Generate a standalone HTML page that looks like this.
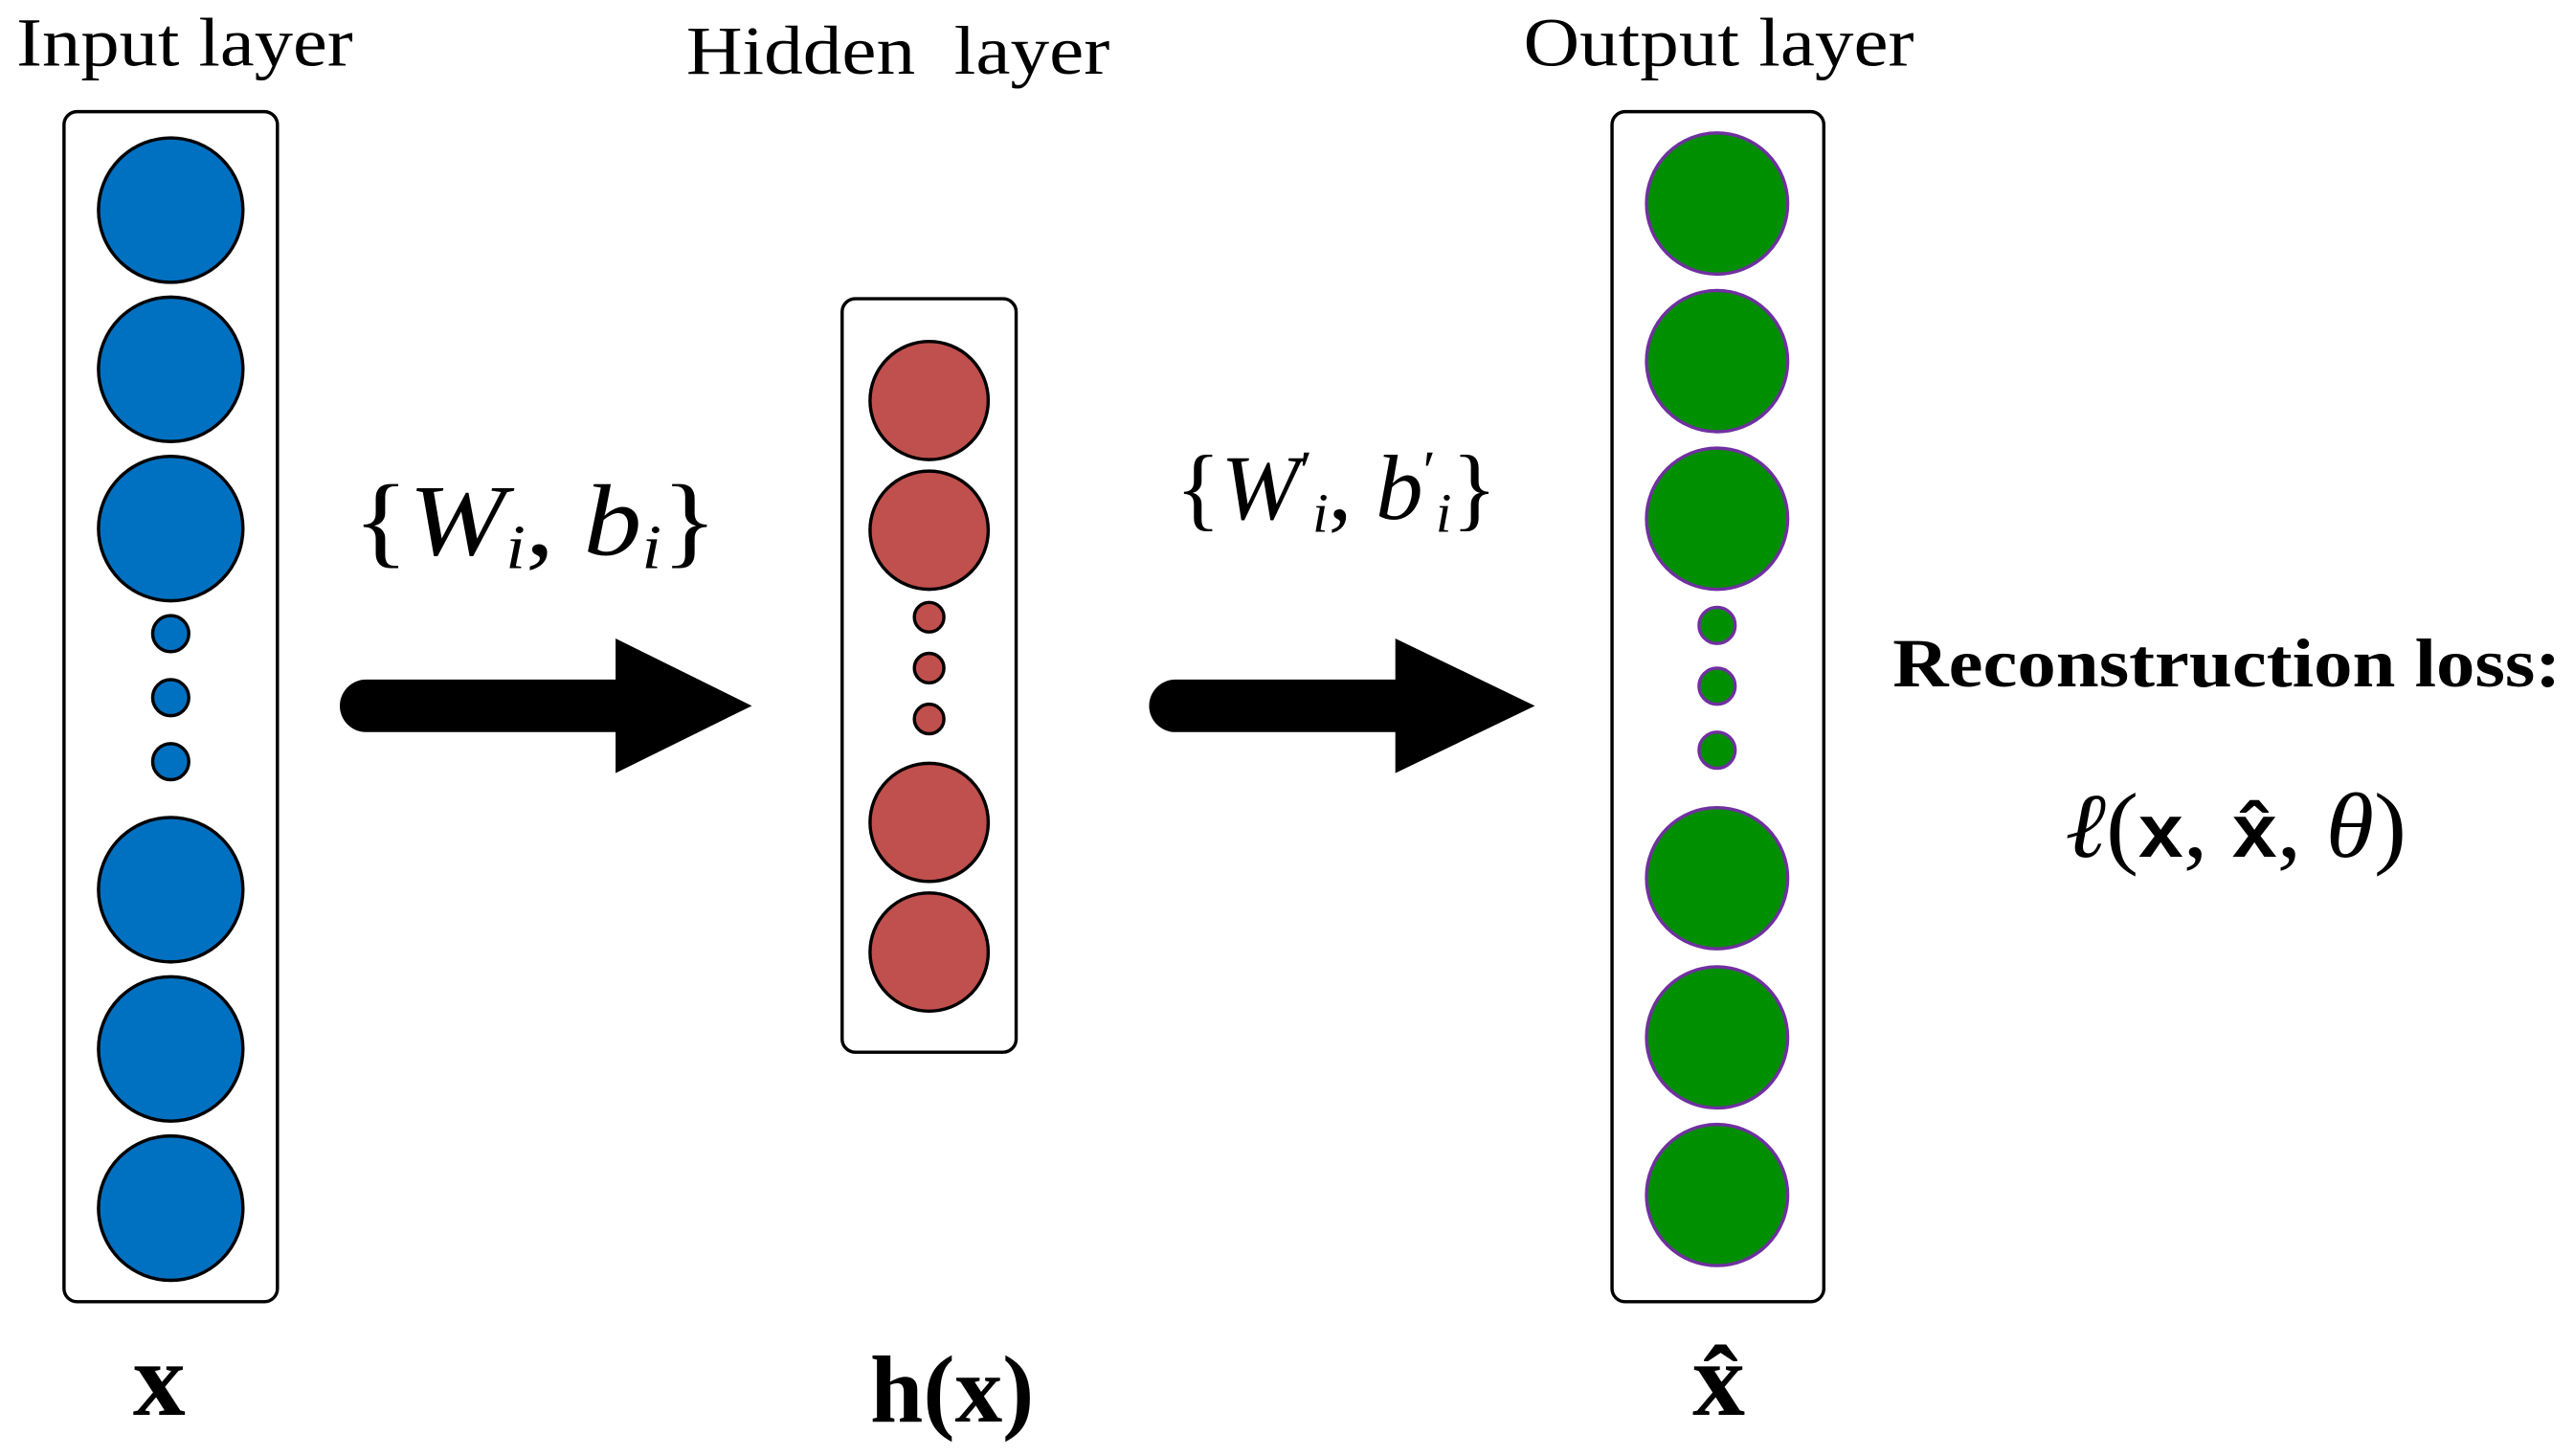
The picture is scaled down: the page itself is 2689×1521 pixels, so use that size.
<!DOCTYPE html>
<html><head><meta charset="utf-8"><style>
html,body{margin:0;padding:0;background:#fff;}
svg{display:block;}
</style></head><body>
<svg width="2689" height="1521" viewBox="0 0 1568 887" preserveAspectRatio="none" xmlns="http://www.w3.org/2000/svg" font-family="Liberation Serif, serif">
<rect width="1568" height="887" fill="#fff"/>
<rect x="39" y="68" width="130" height="725" rx="8" fill="none" stroke="#000" stroke-width="2"/>
<rect x="513" y="182" width="106" height="459" rx="8" fill="none" stroke="#000" stroke-width="2"/>
<rect x="982" y="68" width="129" height="725" rx="8" fill="none" stroke="#000" stroke-width="2"/>
<g fill="#0070c0" stroke="#000" stroke-width="2">
<circle cx="104" cy="128" r="44"/><circle cx="104" cy="225" r="44"/><circle cx="104" cy="322" r="44"/>
<circle cx="104" cy="542" r="44"/><circle cx="104" cy="639" r="44"/><circle cx="104" cy="736" r="44"/>
<circle cx="104" cy="386" r="11"/><circle cx="104" cy="425" r="11"/><circle cx="104" cy="464" r="11"/>
</g>
<g fill="#c0504d" stroke="#000" stroke-width="2">
<circle cx="566" cy="244" r="36"/><circle cx="566" cy="323" r="36"/><circle cx="566" cy="501" r="36"/><circle cx="566" cy="580" r="36"/>
<circle cx="566" cy="376" r="9"/><circle cx="566" cy="407" r="9"/><circle cx="566" cy="438" r="9"/>
</g>
<g fill="#008f00" stroke="#7030a0" stroke-width="2">
<circle cx="1046" cy="124" r="43"/><circle cx="1046" cy="220" r="43"/><circle cx="1046" cy="316" r="43"/>
<circle cx="1046" cy="535" r="43"/><circle cx="1046" cy="632" r="43"/><circle cx="1046" cy="728" r="43"/>
<circle cx="1046" cy="381" r="11"/><circle cx="1046" cy="418" r="11"/><circle cx="1046" cy="457" r="11"/>
</g>
<line x1="223" y1="430" x2="385" y2="430" stroke="#000" stroke-width="32" stroke-linecap="round"/>
<polygon points="375,389 458,430 375,471" fill="#000"/>
<line x1="716" y1="430" x2="858" y2="430" stroke="#000" stroke-width="32" stroke-linecap="round"/>
<polygon points="850,389 935,430 850,471" fill="#000"/>
<text x="10" y="40" font-size="42" textLength="205" lengthAdjust="spacingAndGlyphs">Input layer</text>
<text x="418" y="45" font-size="42" xml:space="preserve" textLength="258" lengthAdjust="spacingAndGlyphs">Hidden  layer</text>
<text x="928" y="40" font-size="42" textLength="238" lengthAdjust="spacingAndGlyphs">Output layer</text>
<text x="215" y="338" font-size="62" textLength="222" lengthAdjust="spacingAndGlyphs">{<tspan font-style="italic">W</tspan><tspan font-style="italic" font-size="38" dy="8">i</tspan><tspan dy="-8">, </tspan><tspan font-style="italic">b</tspan><tspan font-style="italic" font-size="38" dy="8">i</tspan><tspan dy="-8">}</tspan></text>
<text x="716" y="316" font-size="56" textLength="196" lengthAdjust="spacingAndGlyphs">{<tspan font-style="italic">W</tspan><tspan font-size="34" dy="-18">′</tspan><tspan font-style="italic" font-size="34" dy="26">i</tspan><tspan dy="-8">, </tspan><tspan font-style="italic">b</tspan><tspan font-size="34" dy="-18">′</tspan><tspan font-style="italic" font-size="34" dy="26">i</tspan><tspan dy="-8">}</tspan></text>
<text x="97" y="862" font-size="64" font-weight="bold" text-anchor="middle">x</text>
<text x="580" y="866" font-size="58" font-weight="bold" text-anchor="middle">h(x)</text>
<text x="1047" y="862" font-size="64" font-weight="bold" text-anchor="middle">x̂</text>
<text x="1153" y="418" font-size="42" font-weight="bold" textLength="407" lengthAdjust="spacingAndGlyphs">Reconstruction loss:</text>
<text x="1258" y="522" font-size="56" textLength="208" lengthAdjust="spacingAndGlyphs"><tspan font-style="italic">ℓ</tspan>(<tspan font-family="Liberation Sans, sans-serif" font-weight="bold" font-size="46">x</tspan>, <tspan font-family="Liberation Sans, sans-serif" font-weight="bold" font-size="46">x̂</tspan>, <tspan font-style="italic">θ</tspan>)</text>
</svg>
</body></html>
